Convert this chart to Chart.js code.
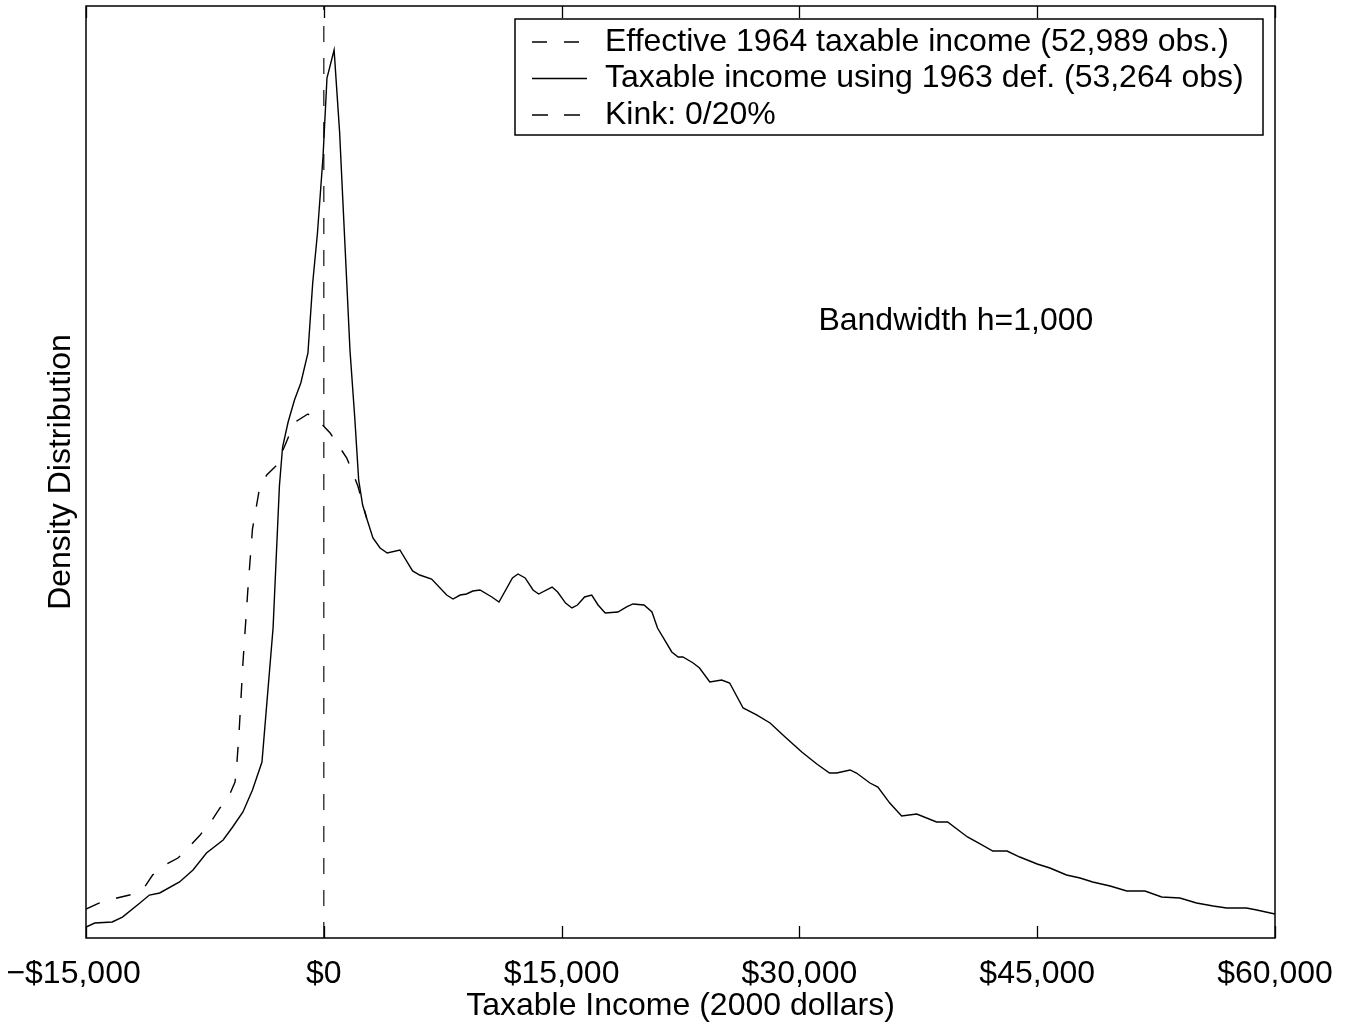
<!DOCTYPE html>
<html>
<head>
<meta charset="utf-8">
<title>Taxable income density</title>
<script src="https://cdn.jsdelivr.net/npm/chart.js@4.4.1/dist/chart.umd.min.js"></script>
<style>
  html, body { margin: 0; padding: 0; background: #fff; }
  #wrap { width: 1354px; height: 1028px; }
</style>
</head>
<body>
<div id="wrap"><canvas id="density" width="1354" height="1028"></canvas></div>
<script>
// taxable income, 2000 dollars (x) and kernel density, arbitrary units (y)
var incomeSolid = [
  -15000, -14450, -13350, -12700, -11600, -11000, -10350, -9100, -8250, -7400,
  -6350, -5750, -5100, -4500, -3900, -3200, -2800, -2600, -2250,
  -1850, -1450, -1000, -700, -400, -50, 200, 650, 1000, 1200,
  1450, 1650, 1950, 2200, 2450, 2700, 3100, 3550, 4000, 4800,
  5600, 6050, 6800, 7750, 8150, 8600, 9000, 9400, 9850, 10600,
  11050, 11900, 12250, 12700, 13200, 13550, 14400, 14750, 15250, 15650,
  16000, 16450, 16900, 17300, 17750, 18550, 19100, 19500, 20200, 20700,
  21050, 21950, 22350, 22650, 23300, 23700, 24350, 25100, 25600, 26450,
  27300, 28150, 29100, 30150, 31100, 31900, 32350, 33200, 33600, 34450,
  34950, 35700, 36450, 37400, 38650, 39350, 40600, 41400, 42200, 43100,
  43900, 45000, 45800, 46850, 47700, 48500, 49600, 50650, 51800, 52850,
  54000, 55050, 56100, 56950, 58200, 58850, 60000
];
var densitySolid = [
  1.18, 1.61, 1.72, 2.25, 3.76, 4.61, 4.83, 6.01, 7.30, 9.12,
  10.52, 11.91, 13.52, 15.88, 18.88, 33.26, 48.50, 52.68, 55.36,
  57.73, 59.55, 62.77, 70.28, 75.64, 83.80, 92.27, 95.28, 86.37, 79.18,
  70.28, 63.09, 55.90, 49.14, 46.46, 45.06, 42.92, 41.85, 41.31, 41.63,
  39.38, 38.95, 38.52, 36.80, 36.37, 36.80, 36.91, 37.23, 37.34, 36.59,
  36.05, 38.63, 39.06, 38.63, 37.34, 36.91, 37.66, 37.12, 35.94, 35.41,
  35.73, 36.59, 36.80, 35.73, 34.87, 34.98, 35.52, 35.84, 35.73, 34.98,
  33.26, 30.69, 30.15, 30.15, 29.51, 28.97, 27.47, 27.68, 27.36, 24.68,
  23.93, 23.07, 21.57, 19.96, 18.67, 17.70, 17.70, 18.03, 17.70, 16.63,
  16.20, 14.48, 13.09, 13.30, 12.45, 12.45, 10.84, 10.09, 9.33, 9.33,
  8.69, 7.94, 7.51, 6.76, 6.44, 6.01, 5.58, 5.04, 5.04, 4.40,
  4.29, 3.76, 3.43, 3.22, 3.22, 3.00, 2.58
];
// effective 1964 definition, only where it differs from the 1963 one
var incomeDashed = [
  -15000, -14150, -13050, -12250, -11300, -10800, -9900, -9200, -8450, -7800,
  -7050, -6550, -5950, -5600, -5500, -5350, -5100, -4800, -4500, -4050,
  -3600, -2950, -2600, -2150, -1700, -1000, -250, 400, 1450, 2150, 2700
];
var densityDashed = [
  3.11, 3.76, 4.29, 4.61, 5.47, 6.76, 7.94, 8.58, 9.87, 11.05,
  12.66, 13.95, 15.34, 16.74, 18.35, 21.89, 29.51, 37.12, 43.88, 48.28,
  49.68, 50.75, 52.25, 54.08, 55.47, 56.22, 55.36, 54.18, 51.50, 48.50, 45.06
];
var kinkX = 0;
var xTicks = [-15000, 0, 15000, 30000, 45000, 60000];
var seriesLabels = [
  'Effective 1964 taxable income (52,989 obs.)',
  'Taxable income using 1963 def. (53,264 obs)',
  'Kink: 0/20%'
];

var FONT = '"Liberation Sans", Arial, Helvetica, sans-serif';

function toPoints(xs, ys) {
  return xs.map(function (x, i) { return { x: x, y: ys[i] }; });
}

function dollars(v) {
  var s = '$' + Math.abs(v).toLocaleString('en-US');
  // Negative label sits a little left of its tick
  return v < 0 ? '\u2212' + s + '\u2002 ' : s;
}

// box around the axes with inward ticks on top and bottom
var frameAndTicks = {
  id: 'frameAndTicks',
  afterDraw: function (chart) {
    var ctx = chart.ctx, a = chart.chartArea, xs = chart.scales.x;
    ctx.save();
    ctx.strokeStyle = '#000';
    ctx.lineWidth = 1.5;
    ctx.strokeRect(a.left, a.top, a.right - a.left, a.bottom - a.top);
    ctx.lineWidth = 1.3;
    xTicks.forEach(function (v) {
      var px = Math.round(xs.getPixelForValue(v)) + 0.5;
      ctx.beginPath();
      ctx.moveTo(px, a.bottom); ctx.lineTo(px, a.bottom - 12);
      ctx.moveTo(px, a.top); ctx.lineTo(px, a.top + 12);
      ctx.stroke();
    });
    ctx.restore();
  }
};

// boxed legend in the upper right corner plus the bandwidth note
var legendBox = {
  id: 'legendBox',
  afterDraw: function (chart) {
    var ctx = chart.ctx, a = chart.chartArea;
    var w = 748, h = 116;
    var left = a.right - 12 - w, top = a.top + 13;
    ctx.save();
    ctx.fillStyle = '#fff';
    ctx.fillRect(left, top, w, h);
    ctx.strokeStyle = '#000';
    ctx.lineWidth = 1.5;
    ctx.strokeRect(left, top, w, h);
    ctx.font = '32px ' + FONT;
    ctx.textBaseline = 'middle';
    ctx.fillStyle = '#000';
    chart.data.datasets.forEach(function (ds, i) {
      var y = top + 23 + i * 36.5;
      ctx.setLineDash(ds.borderDash || []);
      ctx.lineWidth = 1.3;
      ctx.beginPath();
      ctx.moveTo(left + 17, y);
      ctx.lineTo(left + 72, y);
      ctx.stroke();
      ctx.setLineDash([]);
      ctx.fillText(ds.label, left + 90, y);
    });
    var xs = chart.scales.x, ys = chart.scales.y;
    ctx.textAlign = 'left';
    ctx.fillText('Bandwidth h=1,000', xs.getPixelForValue(31200), ys.getPixelForValue(66.2));
    ctx.restore();
  }
};

var config = {
  type: 'scatter',
  data: {
    datasets: [{
      label: seriesLabels[0],
      data: toPoints(incomeDashed, densityDashed),
      showLine: true,
      borderColor: '#000',
      borderWidth: 1.4,
      borderDash: [15, 17],
      pointRadius: 0
    }, {
      label: seriesLabels[1],
      data: toPoints(incomeSolid, densitySolid),
      showLine: true,
      borderColor: '#000',
      borderWidth: 1.4,
      pointRadius: 0
    }, {
      label: seriesLabels[2],
      data: [{ x: kinkX, y: 0 }, { x: kinkX, y: 100 }],
      showLine: true,
      borderColor: '#222',
      borderWidth: 1.3,
      borderDash: [16, 16],
      pointRadius: 0
    }]
  },
  options: {
    responsive: false,
    animation: false,
    layout: { padding: { top: 6, right: 79, left: 0, bottom: 0 } },
    plugins: {
      legend: { display: false },
      tooltip: { enabled: false }
    },
    scales: {
      x: {
        type: 'linear',
        min: -15000,
        max: 60000,
        afterBuildTicks: function (scale) {
          scale.ticks = xTicks.map(function (v) { return { value: v }; });
        },
        afterFit: function (scale) {
          scale.height = 90;
          scale.paddingLeft = 0;
          scale.paddingRight = 0;
        },
        ticks: {
          autoSkip: false,
          maxRotation: 0,
          padding: 17,
          color: '#000',
          font: { family: FONT, size: 32 },
          callback: function (v) { return dollars(v); }
        },
        grid: { display: false, drawTicks: false },
        border: { display: false },
        title: {
          display: true,
          text: 'Taxable Income (2000 dollars)',
          color: '#000',
          font: { family: FONT, size: 32 },
          padding: { top: 0, bottom: 3 }
        }
      },
      y: {
        type: 'linear',
        min: 0,
        max: 100,
        afterFit: function (scale) {
          scale.width = 86;
          scale.paddingTop = 0;
          scale.paddingBottom = 0;
        },
        ticks: { display: false },
        grid: { display: false, drawTicks: false },
        border: { display: false },
        title: {
          display: true,
          text: 'Density Distribution',
          color: '#000',
          font: { family: FONT, size: 32 },
          padding: { top: 42, bottom: 0 }
        }
      }
    }
  },
  plugins: [frameAndTicks, legendBox]
};

window.onload = function () {
  var ctx = document.getElementById('density').getContext('2d');
  window.densityChart = new Chart(ctx, config);
};
</script>
</body>
</html>
